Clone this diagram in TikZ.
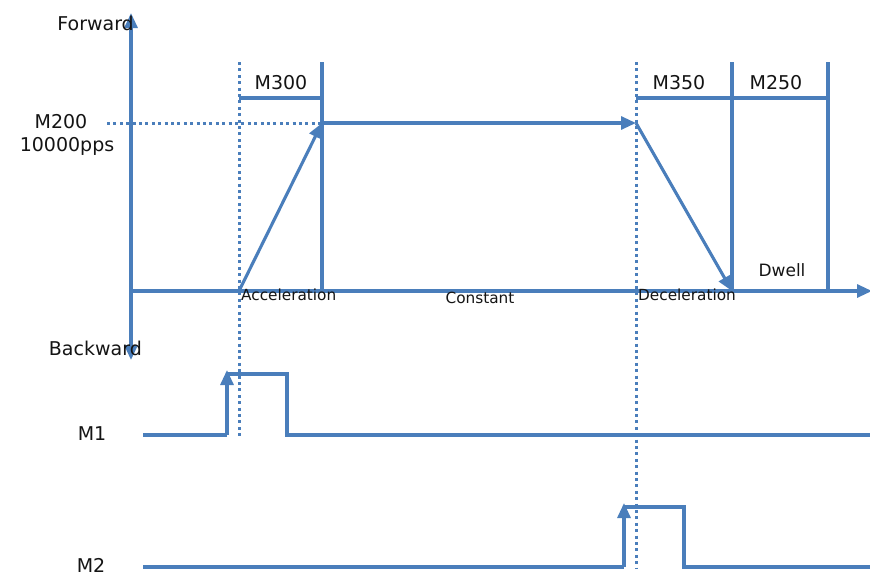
\documentclass[tikz,border=0pt]{standalone}
\usepackage{fontspec}
\setmainfont{DejaVu Sans}
\usetikzlibrary{arrows.meta}
\definecolor{lineblue}{RGB}{74,126,187}
\definecolor{txt}{RGB}{20,20,20}
\begin{document}
\begin{tikzpicture}[x=1pt,y=-1pt,
  ln/.style={draw=lineblue,line width=3.1pt},
  tip/.tip={Triangle[length=15pt,width=13pt]},
  arr/.style={ln,-tip},
  dots/.style={draw=lineblue,line width=3pt,dash pattern=on 3pt off 3.4pt},
  lbl/.style={inner sep=0pt,text=txt,font=\fontsize{19}{21}\selectfont},
  small/.style={inner sep=0pt,text=txt,font=\fontsize{15.3}{17}\selectfont}]
\useasboundingbox (0,0) rectangle (870,576);
% key coordinates
\coordinate (yt) at (131,13);
\coordinate (yb) at (131,360);
\coordinate (o) at (131,291);
\coordinate (xr) at (872,291);
\coordinate (a0) at (239,291);
\coordinate (a1) at (322,123);
\coordinate (d0) at (636,123);
\coordinate (d1) at (732,291);
\coordinate (dw) at (828,291);
\coordinate (m2l) at (107,123);
% axes
\draw[ln,tip-tip] (yt) -- (yb);
\draw[arr] (o) -- (xr);
% dotted verticals and M200 level
\draw[dots] (239,62) -- (239,436);
\draw[dots] (636,62) -- (636,568);
\draw[dots] (m2l) -- (a1);
% profile
\draw[arr] (a0) -- (a1);
\draw[arr] (a1) -- (d0);
\draw[arr] (d0) -- (d1);
% verticals
\draw[ln] (322,62) -- (322,291);
\draw[ln] (732,62) -- (d1);
\draw[ln] (828,62) -- (dw);
% brackets
\draw[ln] (239,98) -- (322,98);
\draw[ln] (636,98) -- (828,98);
% labels
\node[lbl,anchor=east] (fw) at (134,23) {Forward};
\node[lbl,anchor=east] (bw) at (142,348) {Backward};
\node[lbl] (m300) at (281,83) {M300};
\node[lbl] (m350) at (679,83) {M350};
\node[lbl] (m250) at (776,83) {M250};
\node[lbl] (m200) at (61,122) {M200};
\node[lbl] (pps) at (67,146) {10000pps};
\node[lbl,font=\fontsize{17}{19}\selectfont] (dwell) at (782,270) {Dwell};
\node[small,anchor=north west] (acc) at (241,289) {Acceleration};
\node[small] (con) at (480,298) {Constant};
\node[small,anchor=north west] (dec) at (638,289) {Deceleration};
% M1
\node[lbl] (m1) at (92,434) {M1};
\draw[ln] (143,435) -- (227,435);
\draw[arr] (227,435) -- (227,370);
\draw[ln] (225.5,374) -- (287,374) -- (287,435) -- (870,435);
% M2
\node[lbl] (m2) at (91,565) {M2};
\draw[ln] (143,567) -- (624,567);
\draw[arr] (624,567) -- (624,503);
\draw[ln] (622.5,507) -- (684,507) -- (684,567) -- (870,567);
\end{tikzpicture}
\end{document}
